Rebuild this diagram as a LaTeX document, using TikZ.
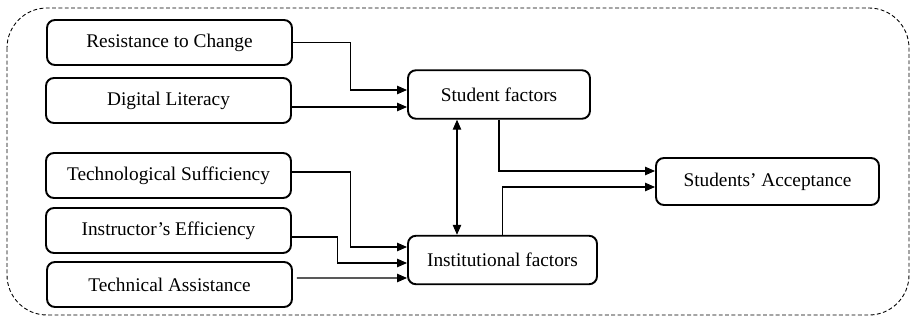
\documentclass[tikz,border=0pt]{standalone}
\usepackage{fontspec}
\setmainfont{Liberation Serif}
\usepackage{tikz}
\usetikzlibrary{positioning,arrows.meta}
\tikzstyle{fator} = [rectangle, rounded corners=0.16cm, minimum width=4.9cm, minimum height=0.9cm, text centered, draw=black, line width=1.1pt, font=\fontsize{11}{13}\selectfont]
\tikzstyle{grupo} = [fator, minimum height=0.97cm]
\tikzstyle{seta} = [line width=0.6pt,-{Triangle[length=2mm,width=1.7mm]}]
\tikzstyle{setadupla} = [line width=0.6pt,{Triangle[length=2mm,width=1.7mm]}-{Triangle[length=2mm,width=1.7mm]}]
\tikzstyle{moldura} = [dashed, dash pattern=on 2.2pt off 1.4pt, line width=0.5pt, rounded corners=0.8cm]
\begin{document}
\begin{tikzpicture}[node distance=2cm]
        \useasboundingbox (0,0) rectangle (18.2,-6.44);
        % Moldura tracejada
        \draw [moldura] (0.14,-0.16) rectangle (18.18,-6.30);
        % Fatores dos alunos
        \node (resist) [fator] at (3.39,-0.85) {Resistance to Change};
        \node (digital) [fator] at (3.37,-2.01) {Digital Literacy};
        % Fatores institucionais
        \node (tecsuf) [fator] at (3.37,-3.51) {Technological Sufficiency};
        \node (instrutor) [fator] at (3.37,-4.61) {Instructor's Efficiency};
        \node (assist) [fator] at (3.39,-5.69) {Technical Assistance};
        % Grupos e resultado
        \node (aluno) [grupo, minimum width=3.64cm] at (9.98,-1.89) {Student factors};
        \node (instituicao) [grupo, minimum width=3.78cm] at (10.05,-5.20) {Institutional factors};
        \node (aceitacao) [grupo, minimum width=4.46cm, minimum height=0.94cm] at (15.35,-3.63) {Students' Acceptance};
        % Conexões para os grupos
        \draw [seta] (resist.east) -- ++(1.16,0) |- ([yshift=0.09cm]aluno.west);
        \draw [seta] ([yshift=-0.13cm]digital.east) -- ([yshift=-0.25cm]aluno.west);
        \draw [seta] ([yshift=0.07cm]tecsuf.east) -- ++(1.18,0) |- ([yshift=0.26cm]instituicao.west);
        \draw [seta] ([yshift=-0.13cm]instrutor.east) -- ++(0.92,0) |- ([yshift=-0.06cm]instituicao.west);
        \draw [seta] ([xshift=0.08cm,yshift=0.13cm]assist.east) -- ([yshift=-0.36cm]instituicao.west);
        % Relação entre os grupos
        \draw [setadupla] ([xshift=-0.84cm]aluno.south) -- ([xshift=-0.84cm]aluno.south |- instituicao.north);
        % Conexões para a aceitação
        \draw [seta] (aluno.south) |- ([yshift=0.21cm]aceitacao.west);
        \draw [seta] (instituicao.north) |- ([yshift=-0.11cm]aceitacao.west);
    \end{tikzpicture}
\end{document}
